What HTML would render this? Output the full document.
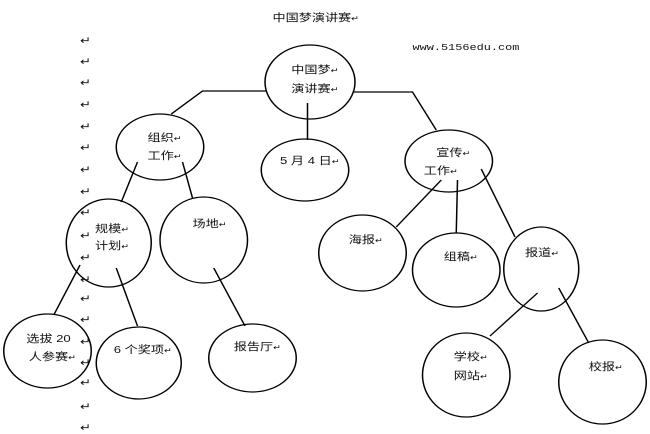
<!DOCTYPE html>
<html><head><meta charset="utf-8"><style>
html,body{margin:0;padding:0;background:#fff;width:650px;height:434px;overflow:hidden}
svg{display:block}
text{font-family:"Liberation Sans","Noto Sans CJK SC",sans-serif;font-size:10.5px;fill:#111}
.r{font-size:7.5px}
</style></head><body>
<svg width="650" height="434" viewBox="0 0 520 434" preserveAspectRatio="none" xmlns="http://www.w3.org/2000/svg">
<g fill="none" stroke="#000" stroke-width="1.2">
<ellipse cx="248" cy="82" rx="36" ry="37"/>
<ellipse cx="128" cy="147" rx="35" ry="33"/>
<ellipse cx="244" cy="170" rx="35" ry="31"/>
<ellipse cx="359" cy="161" rx="35" ry="31"/>
<ellipse cx="87" cy="243" rx="34" ry="44"/>
<ellipse cx="163" cy="240" rx="35" ry="43"/>
<ellipse cx="290" cy="253" rx="35" ry="38"/>
<ellipse cx="365" cy="270" rx="35" ry="37"/>
<ellipse cx="433" cy="269" rx="30" ry="42"/>
<ellipse cx="38" cy="351" rx="35" ry="37"/>
<ellipse cx="111" cy="363" rx="34" ry="36"/>
<ellipse cx="202" cy="358" rx="35" ry="34"/>
<ellipse cx="373" cy="375" rx="35" ry="42"/>
<ellipse cx="482" cy="382" rx="35" ry="42"/>
<polyline points="213,91 162,91 137,114"/>
<polyline points="282,92 330,92 349,130"/>
<line x1="246" y1="103" x2="246" y2="140"/>
<line x1="110" y1="162" x2="97" y2="202"/>
<line x1="146" y1="162" x2="154" y2="198"/>
<line x1="353" y1="180" x2="317" y2="227"/>
<line x1="366" y1="180" x2="365" y2="233"/>
<line x1="385" y1="169" x2="412" y2="237"/>
<line x1="64" y1="265" x2="43" y2="315"/>
<line x1="93" y1="268" x2="110" y2="326"/>
<line x1="171" y1="268" x2="196" y2="326"/>
<line x1="430" y1="293" x2="392" y2="336"/>
<line x1="447" y1="288" x2="471" y2="343"/>
</g>
<text x="218" y="21">中国梦演讲赛<tspan class="r">↵</tspan></text>
<text x="330" y="50" style="font-family:'Liberation Mono',monospace;font-size:9.5px">www.5156edu.com</text>
<g class="r">
<text x="64" y="44">↵</text><text x="64" y="65">↵</text><text x="64" y="86">↵</text><text x="64" y="108">↵</text><text x="64" y="130">↵</text><text x="64" y="151">↵</text><text x="64" y="173">↵</text><text x="64" y="195">↵</text><text x="64" y="216">↵</text><text x="64" y="239">↵</text><text x="64" y="261">↵</text><text x="64" y="283">↵</text><text x="64" y="302">↵</text><text x="64" y="323">↵</text><text x="64" y="345">↵</text><text x="64" y="366">↵</text><text x="64" y="386">↵</text><text x="64" y="410">↵</text><text x="64" y="431">↵</text>
</g>
<text x="233" y="73">中国梦<tspan class="r">↵</tspan></text>
<text x="233" y="92">演讲赛<tspan class="r">↵</tspan></text>
<text x="118" y="141">组织<tspan class="r">↵</tspan></text>
<text x="118" y="159">工作<tspan class="r">↵</tspan></text>
<text x="224" y="164">5 月 4 日<tspan class="r">↵</tspan></text>
<text x="349" y="156">宣传<tspan class="r">↵</tspan></text>
<text x="339" y="174">工作<tspan class="r">↵</tspan></text>
<text x="76" y="232">规模<tspan class="r">↵</tspan></text>
<text x="76" y="249">计划<tspan class="r">↵</tspan></text>
<text x="154" y="227">场地<tspan class="r">↵</tspan></text>
<text x="279" y="243">海报<tspan class="r">↵</tspan></text>
<text x="355" y="260">组稿<tspan class="r">↵</tspan></text>
<text x="420" y="256">报道<tspan class="r">↵</tspan></text>
<text x="21" y="342">选拔 20</text>
<text x="23" y="360">人参赛<tspan class="r">↵</tspan></text>
<text x="91" y="353">6 个奖项<tspan class="r">↵</tspan></text>
<text x="187" y="350">报告厅<tspan class="r">↵</tspan></text>
<text x="363" y="360">学校<tspan class="r">↵</tspan></text>
<text x="363" y="379">网站<tspan class="r">↵</tspan></text>
<text x="471" y="370">校报<tspan class="r">↵</tspan></text>
</svg>
</body></html>
